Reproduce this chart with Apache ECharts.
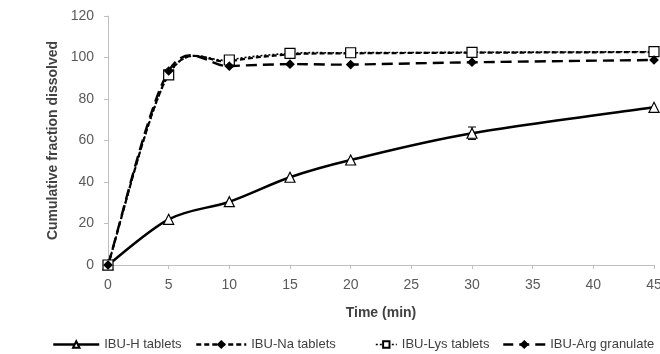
<!DOCTYPE html>
<html>
<head>
<meta charset="utf-8">
<script src="https://cdn.jsdelivr.net/npm/echarts@6/dist/echarts.min.js"></script>
<style>
  html, body { margin: 0; padding: 0; background: #fff; }
  #chart { width: 660px; height: 354px; }
</style>
</head>
<body>
<div id="chart"></div>
<script>
// dissolution profiles
const times = [0, 5, 10, 15, 20, 30, 45]
const ibuH = [0, 22, 30.5, 42.3, 50.6, 63.5, 76]
const ibuHErr = [0, 0, 0, 0, 0, 3, 0]
const ibuNa = [0, 92, 98.2, 101.5, 102, 102.3, 102.6]
const ibuLys = [0, 91.6, 98.8, 102, 102.3, 102.5, 102.8]
const ibuArg = [0, 93.5, 95.8, 96.8, 96.6, 97.7, 98.8]
const xTicks = [0, 5, 10, 15, 20, 25, 30, 35, 40, 45]

const FONT = 'Liberation Sans'
const chart = echarts.init(document.getElementById('chart'))

const pairs = (ys) => times.map((t, i) => [t, ys[i]])

// excel-like smoothed line (catmull-rom, can overshoot like the original)
const smoothLine = (name, ys, width, dash, z) => ({
  name,
  type: 'custom',
  data: pairs(ys),
  encode: { x: 0, y: 1 },
  silent: true,
  z,
  renderItem: (params, api) => {
    if (params.dataIndex !== 0) return null
    const n = times.length
    const pt = (k) => {
      const j = Math.max(0, Math.min(n - 1, k))
      return api.coord([times[j], ys[j]])
    }
    let d = ''
    for (let i = 0; i < n - 1; i++) {
      const p0 = pt(i - 1), p1 = pt(i), p2 = pt(i + 1), p3 = pt(i + 2)
      const c1 = [p1[0] + (p2[0] - p0[0]) / 6, p1[1] + (p2[1] - p0[1]) / 6]
      const c2 = [p2[0] - (p3[0] - p1[0]) / 6, p2[1] - (p3[1] - p1[1]) / 6]
      if (i === 0) d += 'M' + p1[0] + ' ' + p1[1]
      d += ' C' + c1[0] + ' ' + c1[1] + ' ' + c2[0] + ' ' + c2[1] + ' ' + p2[0] + ' ' + p2[1]
    }
    return {
      type: 'path',
      shape: { pathData: d },
      style: { stroke: '#000', fill: null, lineWidth: width, lineDash: dash },
    }
  },
})

const markers = (name, ys, symbol, size, fill, z) => ({
  name,
  type: 'line',
  data: pairs(ys),
  symbol,
  symbolSize: size,
  lineStyle: { opacity: 0 },
  itemStyle: { color: fill, borderColor: '#000', borderWidth: 1.2 },
  z,
})

const legendBase = {
  top: 333,
  itemHeight: 8,
  itemGap: 4,
  textStyle: { fontFamily: FONT, fontSize: 13, color: '#404040' },
}

const option = {
  backgroundColor: '#fff',
  animation: false,
  grid: { left: 108, right: 6, top: 16, bottom: 89, outerBoundsMode: 'none' },
  legend: [
    { ...legendBase, left: 47, itemWidth: 46, data: ['IBU-H tablets'],
      lineStyle: { opacity: 1, color: '#000', width: 2.5, type: 'solid' } },
    { ...legendBase, left: 190, itemWidth: 50, data: ['IBU-Na tablets'],
      lineStyle: { opacity: 1, color: '#000', width: 2.5, type: [5, 3] } },
    { ...legendBase, left: 370, itemWidth: 21, data: ['IBU-Lys tablets'],
      lineStyle: { opacity: 1, color: '#000', width: 1.6, type: [2, 2] } },
    { ...legendBase, left: 497, itemWidth: 42, data: ['IBU-Arg granulate'],
      lineStyle: { opacity: 1, color: '#000', width: 2.5, type: [10, 6] } },
  ],
  xAxis: {
    type: 'value',
    min: 0,
    max: 45,
    interval: 5,
    name: 'Time (min)',
    nameLocation: 'middle',
    nameGap: 41,
    nameTextStyle: { fontFamily: FONT, fontSize: 14, fontWeight: 'bold', color: '#404040' },
    axisLine: { lineStyle: { color: '#bfbfbf' } },
    axisTick: { show: true, length: 4, lineStyle: { color: '#bfbfbf' } },
    axisLabel: {
      fontFamily: FONT, fontSize: 14, color: '#595959', margin: 13,
      formatter: (v) => (xTicks.includes(v) ? String(v) : ''),
    },
    splitLine: { show: false },
  },
  yAxis: {
    type: 'value',
    min: 0,
    max: 120,
    interval: 20,
    name: 'Cumulative fraction dissolved',
    nameLocation: 'middle',
    nameGap: 47,
    nameTextStyle: { fontFamily: FONT, fontSize: 14, fontWeight: 'bold', color: '#404040' },
    axisLine: { show: true, lineStyle: { color: '#bfbfbf' } },
    axisTick: { show: true, length: 4, lineStyle: { color: '#bfbfbf' } },
    axisLabel: { fontFamily: FONT, fontSize: 14, color: '#595959', margin: 14 },
    splitLine: { show: false },
  },
  series: [
    smoothLine('H line', ibuH, 2.5, null, 2),
    smoothLine('Na line', ibuNa, 2.2, [5, 3], 2),
    smoothLine('Lys line', ibuLys, 1.6, [2, 2], 2),
    smoothLine('Arg line', ibuArg, 2.4, [11, 6], 2),
    {
      name: 'IBU-H error',
      type: 'custom',
      data: times.map((t, i) => [t, ibuH[i], ibuHErr[i]]),
      encode: { x: 0, y: 1 },
      z: 3,
      renderItem: (params, api) => {
        const err = api.value(2)
        if (!err) return null
        const x = api.value(0)
        const y = api.value(1)
        const top = api.coord([x, y + err])
        const bot = api.coord([x, y - err])
        const w = 4
        const st = { stroke: '#000', lineWidth: 1 }
        return {
          type: 'group',
          children: [
            { type: 'line', shape: { x1: top[0], y1: top[1], x2: bot[0], y2: bot[1] }, style: st },
            { type: 'line', shape: { x1: top[0] - w, y1: top[1], x2: top[0] + w, y2: top[1] }, style: st },
            { type: 'line', shape: { x1: bot[0] - w, y1: bot[1], x2: bot[0] + w, y2: bot[1] }, style: st },
          ],
        }
      },
    },
    markers('IBU-H tablets', ibuH, 'triangle', 10, '#fff', 4),
    markers('IBU-Na tablets', ibuNa, 'diamond', 8, '#000', 5),
    markers('IBU-Lys tablets', ibuLys, 'rect', 10, '#fff', 6),
    markers('IBU-Arg granulate', ibuArg, 'diamond', 8, '#000', 7),
  ],
}

chart.setOption(option)
</script>
</body>
</html>
